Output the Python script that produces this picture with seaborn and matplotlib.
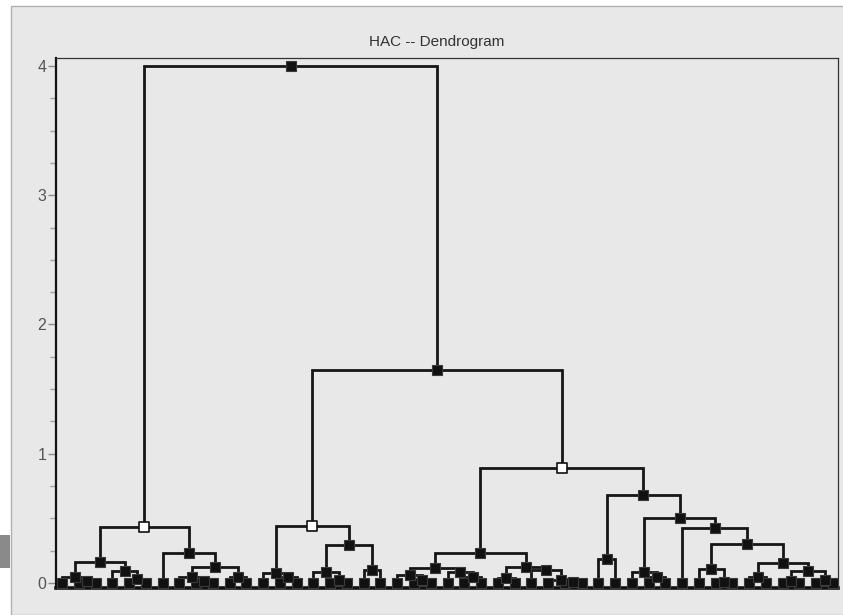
import matplotlib
matplotlib.use("Agg")
import matplotlib.pyplot as plt
import numpy as np
import pandas as pd
import seaborn as sns
from matplotlib.patches import Rectangle
from matplotlib.ticker import MultipleLocator

# leaves are 0..46 in display order; merge k gets node id 47 + k
n_leaves = 47
merge_left = [1, 0, 4, 3, 48, 8, 7, 10, 53, 6, 51,
              13, 12, 16, 15, 18, 61, 59,
              21, 20, 24, 23, 66, 26, 30, 29, 28, 70, 69,
              32, 35, 34, 39, 38, 41, 43, 45, 82, 81, 80, 37, 78, 76, 75, 64, 57]
merge_right = [2, 47, 5, 49, 50, 9, 52, 11, 54, 55, 56,
               14, 58, 17, 60, 19, 62, 63,
               22, 65, 25, 67, 68, 27, 31, 71, 72, 73, 74,
               33, 36, 77, 40, 79, 42, 44, 46, 83, 84, 85, 86, 87, 88, 89, 90, 91]
merge_height = [0.015, 0.045, 0.03, 0.093, 0.16, 0.015, 0.045, 0.045, 0.125, 0.23, 0.43,
                0.046, 0.077, 0.02, 0.085, 0.10, 0.295, 0.44,
                0.02, 0.06, 0.045, 0.085, 0.115, 0.04, 0.01, 0.02, 0.10, 0.125, 0.23,
                0.185, 0.045, 0.085, 0.01, 0.105, 0.045, 0.015, 0.02, 0.09, 0.155, 0.30,
                0.425, 0.50, 0.68, 0.89, 1.645, 4.0]
hollow_nodes = [57, 64, 90]
chart_title = "HAC -- Dendrogram"
y_ticks = [0, 1, 2, 3, 4]

# dendrogram layout: merge x is the midpoint of its two children
node_x = [float(i) for i in range(n_leaves)]
node_y = [0.0] * n_leaves
for l, r, h in zip(merge_left, merge_right, merge_height):
    node_x.append((node_x[l] + node_x[r]) / 2)
    node_y.append(h)

nodes = pd.DataFrame({"x": node_x, "y": node_y})
nodes["kind"] = ["hollow" if i in hollow_nodes else "filled" for i in range(len(nodes))]

sns.set_style("white")
plt.rcParams["font.family"] = ["Liberation Sans", "DejaVu Sans"]

W, H = 843, 615
fig = plt.figure(figsize=(W / 100, H / 100), dpi=100, facecolor="white")
# window panel behind the chart
fig.patches.append(Rectangle((11 / W, 0), 1, (H - 6) / H, transform=fig.transFigure,
                             facecolor="#e8e8e8", edgecolor="#b0b0b0", lw=1, zorder=-2))
fig.patches.append(Rectangle((0, (H - 568) / H), 10 / W, 33 / H, transform=fig.transFigure,
                             facecolor="#8a8a8a", edgecolor="none", zorder=-1))

ax = fig.add_axes([56 / W, (H - 588) / H, (838 - 56) / W, (588 - 58) / H])
ax.set_zorder(1)
ax.set_facecolor("#e8e8e8")

for l, r, h in zip(merge_left, merge_right, merge_height):
    ax.plot([node_x[l], node_x[l], node_x[r], node_x[r]],
            [node_y[l], h, h, node_y[r]],
            color="#161616", lw=2.0, solid_joinstyle="miter", zorder=2)

sns.scatterplot(data=nodes[nodes["kind"] == "filled"], x="x", y="y", marker="s", s=42,
                color="#111111", edgecolor="#3a3a3a", linewidth=0.8, legend=False, ax=ax, zorder=3)
sns.scatterplot(data=nodes[nodes["kind"] == "hollow"], x="x", y="y", marker="s", s=42,
                color="white", edgecolor="#111111", linewidth=1.2, legend=False, ax=ax, zorder=3)

ax.set_xlim(-0.36, 46.3)
ax.set_ylim(-0.039, 4.062)
ax.set_xticks([])
ax.set_yticks(y_ticks)
ax.set_yticklabels([str(t) for t in y_ticks])
ax.yaxis.set_minor_locator(MultipleLocator(0.25))
ax.tick_params(axis="y", which="major", direction="out", length=6, width=1, color="#8a8a8a",
               labelcolor="#555555", labelsize=11.5, pad=1, left=True)
ax.tick_params(axis="y", which="minor", direction="out", length=4, width=1, color="#a0a0a0", left=True)
ax.set_xlabel("")
ax.set_ylabel("")

ax.spines["left"].set_color("#111111")
ax.spines["left"].set_linewidth(1.6)
ax.spines["bottom"].set_color("#111111")
ax.spines["bottom"].set_linewidth(2.6)
for side in ["top", "right"]:
    ax.spines[side].set_color("#333333")
    ax.spines[side].set_linewidth(0.9)

fig.text(437 / W, 1 - 42 / H, chart_title, ha="center", va="center", fontsize=11, color="#333333")

fig.savefig("out.png", dpi=100, facecolor=fig.get_facecolor())
